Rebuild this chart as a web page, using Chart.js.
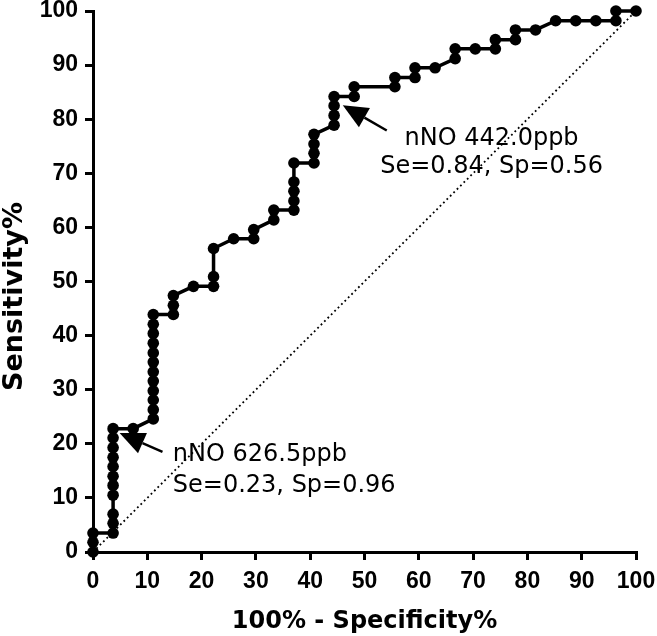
<!DOCTYPE html>
<html>
<head>
<meta charset="utf-8">
<script src="https://cdn.jsdelivr.net/npm/chart.js@4"></script>
<style>
  body { margin: 0; background: #fff; }
  #wrap { width: 657px; height: 636px; }
</style>
</head>
<body>
<div id="wrap"><canvas id="myChart" width="657" height="636"></canvas></div>
<script>
// 100% - specificity (x) and sensitivity (y)
const fpr = [0, 0, 0,
  3.7, 3.7, 3.7, 3.7, 3.7, 3.7, 3.7, 3.7, 3.7, 3.7, 3.7,
  7.4,
  11.1, 11.1, 11.1, 11.1, 11.1, 11.1, 11.1, 11.1, 11.1, 11.1, 11.1, 11.1,
  14.8, 14.8, 14.8,
  18.5,
  22.2, 22.2, 22.2,
  25.9,
  29.6, 29.6,
  33.3, 33.3,
  37.0, 37.0, 37.0, 37.0, 37.0,
  40.7, 40.7, 40.7, 40.7,
  44.4, 44.4, 44.4, 44.4,
  48.1, 48.1,
  55.6, 55.6,
  59.3, 59.3,
  63.0,
  66.7, 66.7,
  70.4,
  74.1, 74.1,
  77.8, 77.8,
  81.5,
  85.2,
  88.9,
  92.6,
  96.3, 96.3,
  100]
const sens = [0, 1.8, 3.5,
  3.5, 5.3, 7.0, 10.5, 12.3, 14.0, 15.8, 17.5, 19.3, 21.1, 22.8,
  22.8,
  24.6, 26.3, 28.1, 29.8, 31.6, 33.3, 35.1, 36.8, 38.6, 40.4, 42.1, 43.9,
  43.9, 45.6, 47.4,
  49.1,
  49.1, 50.9, 56.1,
  57.9,
  57.9, 59.6,
  61.4, 63.2,
  63.2, 64.9, 66.7, 68.4, 71.9,
  71.9, 73.7, 75.4, 77.2,
  78.9, 80.7, 82.5, 84.2,
  84.2, 86.0,
  86.0, 87.7,
  87.7, 89.5,
  89.5,
  91.2, 93.0,
  93.0,
  93.0, 94.7,
  94.7, 96.5,
  96.5,
  98.2,
  98.2,
  98.2,
  98.2, 100,
  100]

// reference line
const diagX = [0, 100]
const diagY = [0, 100]

const tickLabels = ['0', '10', '20', '30', '40', '50', '60', '70', '80', '90', '100']
const yTitle = 'Sensitivity%'

// cut-off notes: arrow from tail to tip, text lines (data units)
const notes = [
  { tail: [54.1, 77.9], tip: [46.0, 82.6], x: 73.4, align: 'center',
    lines: [['nNO 442.0ppb', 75.2], ['Se=0.84, Sp=0.56', 70.1]] },
  { tail: [12.8, 18.5], tip: [4.9, 22.0], x: 14.7, align: 'left',
    lines: [['nNO 626.5ppb', 16.9], ['Se=0.23, Sp=0.96', 11.0]] }
]

const toPts = (xs, ys) => xs.map((v, i) => ({ x: v, y: ys[i] }))

const notePlugin = {
  id: 'notes',
  afterDatasetsDraw(chart) {
    const ctx = chart.ctx
    const sx = chart.scales.x, sy = chart.scales.y
    ctx.save()
    ctx.fillStyle = '#000'
    ctx.strokeStyle = '#000'
    notes.forEach(n => {
      let x1 = sx.getPixelForValue(n.tail[0]), y1 = sy.getPixelForValue(n.tail[1])
      let x2 = sx.getPixelForValue(n.tip[0]), y2 = sy.getPixelForValue(n.tip[1])
      let a = Math.atan2(y2 - y1, x2 - x1)
      let len = 25, hw = 11
      let bx = x2 - len * Math.cos(a), by = y2 - len * Math.sin(a)
      ctx.lineWidth = 2.4
      ctx.beginPath()
      ctx.moveTo(x1, y1)
      ctx.lineTo(bx, by)
      ctx.stroke()
      ctx.beginPath()
      ctx.moveTo(x2, y2)
      ctx.lineTo(bx + hw * Math.sin(a), by - hw * Math.cos(a))
      ctx.lineTo(bx - hw * Math.sin(a), by + hw * Math.cos(a))
      ctx.closePath()
      ctx.fill()

      ctx.font = '24px "DejaVu Sans"'
      ctx.textAlign = n.align
      ctx.textBaseline = 'alphabetic'
      n.lines.forEach(l => {
        ctx.fillText(l[0], sx.getPixelForValue(n.x), sy.getPixelForValue(l[1]))
      })
    })

    // y axis title, sits a little below the plot middle in the original
    ctx.translate(15, (chart.chartArea.top + chart.chartArea.bottom) / 2 + 15)
    ctx.rotate(-Math.PI / 2)
    ctx.font = 'bold 27px "DejaVu Sans"'
    ctx.textAlign = 'center'
    ctx.textBaseline = 'middle'
    ctx.fillText(yTitle, 0, 0)
    ctx.restore()
  }
}

const tickFont = { family: '"Liberation Sans", Arial', size: 23, weight: 'bold' }

new Chart(document.getElementById('myChart'), {
  type: 'scatter',
  data: {
    datasets: [{
      data: toPts(fpr, sens),
      showLine: true,
      borderColor: '#000',
      borderWidth: 3.5,
      backgroundColor: '#000',
      pointRadius: 5.8,
      pointBackgroundColor: '#000',
      pointBorderWidth: 0,
      clip: false
    }, {
      data: toPts(diagX, diagY),
      showLine: true,
      borderColor: '#000',
      borderWidth: 1.8,
      borderDash: [1.8, 3],
      pointRadius: 0,
      clip: false
    }]
  },
  options: {
    responsive: false,
    animation: false,
    layout: { padding: { left: 0, right: 21, top: 11, bottom: 0 } },
    plugins: { legend: { display: false }, tooltip: { enabled: false } },
    scales: {
      x: {
        type: 'linear',
        min: 0, max: 100,
        afterFit(s) { s.height = 84; s.paddingLeft = 0; s.paddingRight = 0 },
        border: { display: true, color: '#000', width: 3 },
        grid: { drawOnChartArea: false, drawTicks: true, tickLength: 8, color: '#000', lineWidth: 3 },
        ticks: {
          stepSize: 10, color: '#000', font: tickFont, padding: 8, maxRotation: 0,
          callback: (v, i) => tickLabels[i]
        },
        title: {
          display: true, text: '100% - Specificity%', color: '#000',
          font: { family: '"DejaVu Sans"', size: 24, weight: 'bold' },
          padding: { top: 5, bottom: 0 }
        }
      },
      y: {
        type: 'linear',
        min: 0, max: 100,
        afterFit(s) { s.width = 93; s.paddingTop = 0; s.paddingBottom = 0 },
        border: { display: true, color: '#000', width: 3 },
        grid: { drawOnChartArea: false, drawTicks: true, tickLength: 8, color: '#000', lineWidth: 3 },
        ticks: {
          stepSize: 10, color: '#000', font: tickFont, padding: 7,
          callback: (v, i) => tickLabels[i]
        },
        title: { display: false }
      }
    }
  },
  plugins: [notePlugin]
})
</script>
</body>
</html>
